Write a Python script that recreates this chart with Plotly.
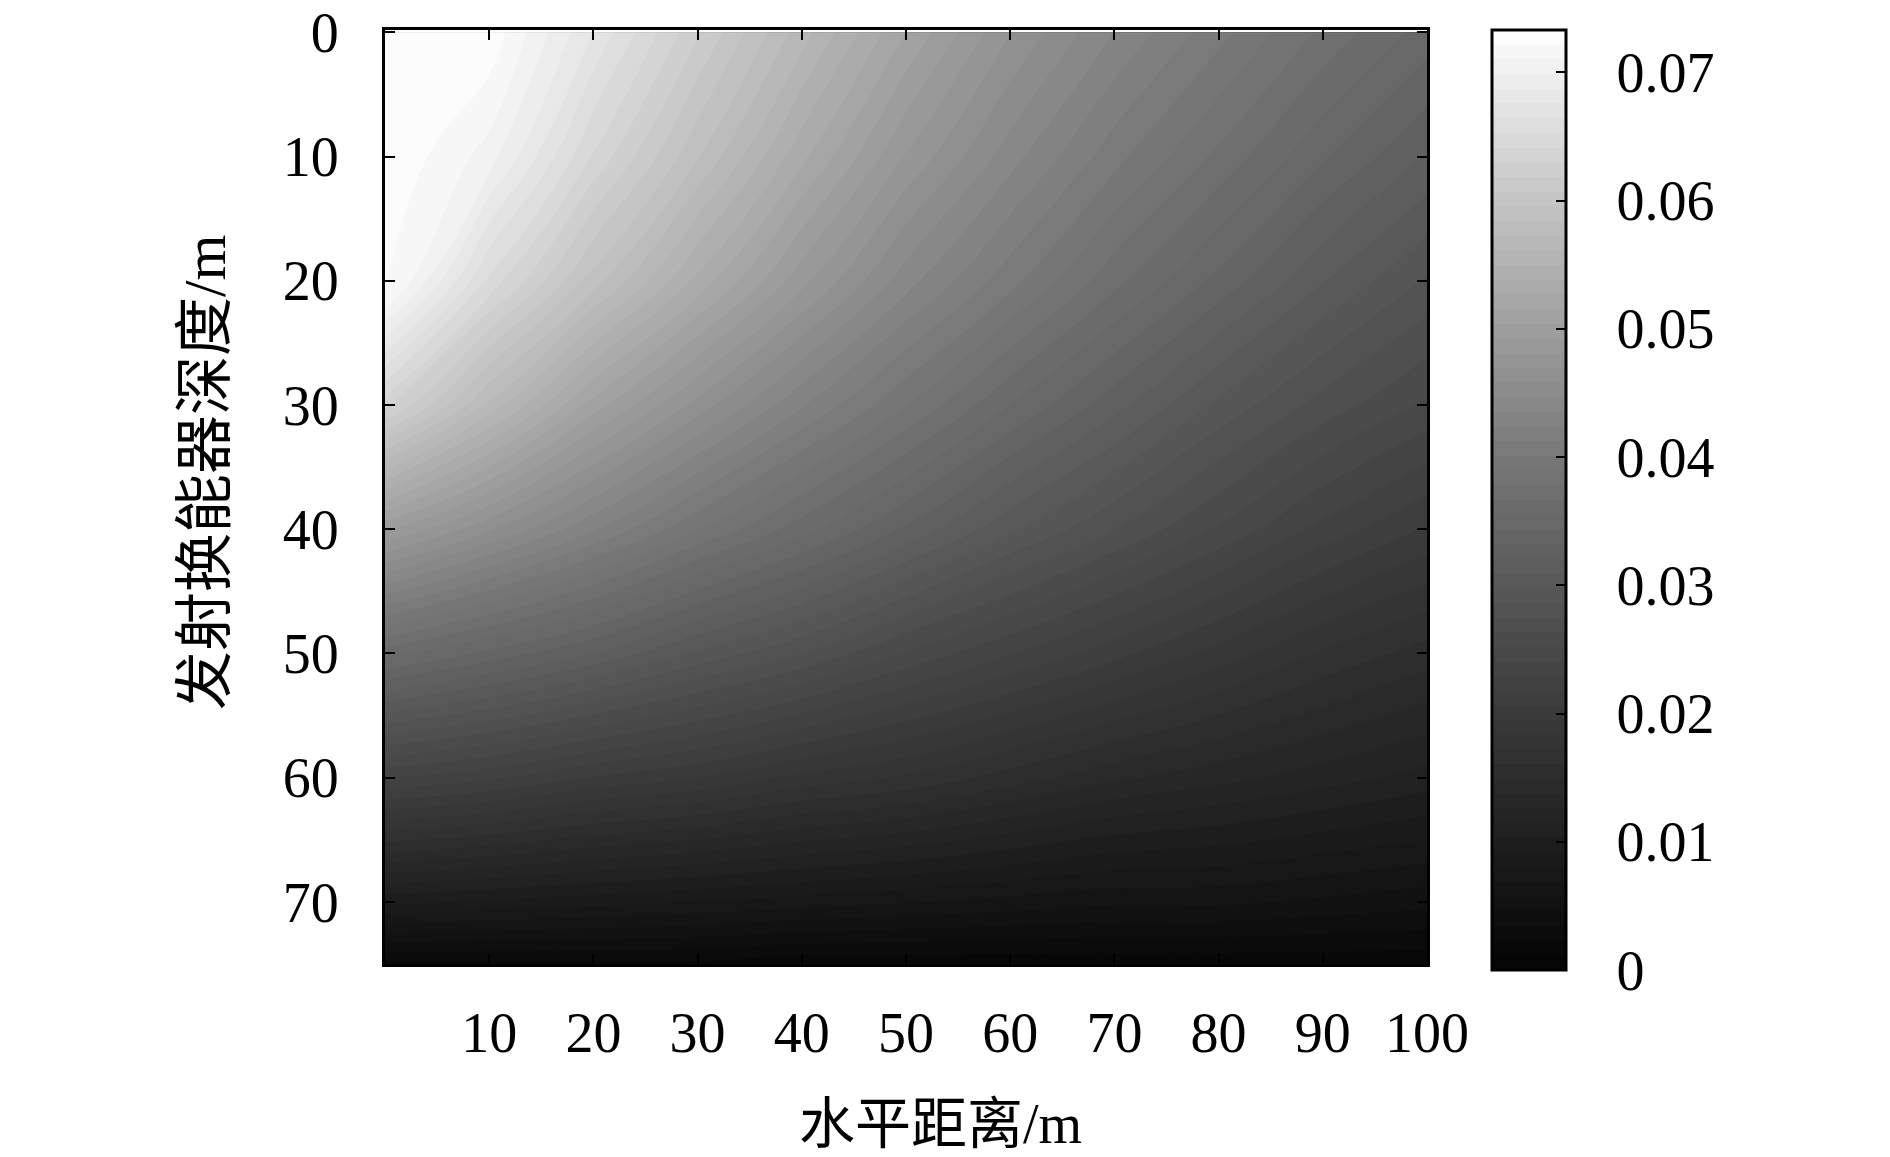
import plotly.graph_objects as go

# horizontal distance (m) and transmitter depth (m) of the sampled grid
distance = [0, 10, 20, 30, 40, 50, 60, 70, 80, 90, 100]
depth = [0, 10, 20, 30, 40, 50, 60, 70, 75]

# field values, one row per depth (units 1e-3)
row_d0 = [73.3, 73.0, 67.5, 62.0, 56.6, 51.5, 47.0, 43.5, 40.5, 37.5, 35.0]
row_d10 = [73.3, 70.5, 64.0, 58.5, 53.0, 48.0, 44.0, 40.5, 37.5, 34.5, 32.0]
row_d20 = [73.0, 65.0, 59.0, 53.5, 48.5, 44.0, 40.5, 37.0, 34.0, 31.0, 28.5]
row_d30 = [63.5, 57.0, 51.0, 46.5, 42.5, 39.0, 35.5, 32.5, 29.5, 27.0, 25.0]
row_d40 = [49.5, 46.0, 42.5, 39.0, 36.0, 33.0, 30.0, 27.5, 25.0, 22.5, 20.5]
row_d50 = [36.0, 34.0, 32.0, 29.5, 27.5, 25.0, 23.0, 21.0, 19.0, 17.0, 15.5]
row_d60 = [23.0, 22.0, 20.5, 19.5, 18.0, 17.0, 15.5, 14.0, 13.0, 12.0, 11.0]
row_d70 = [9.5, 9.0, 8.5, 8.0, 7.5, 7.0, 6.5, 6.0, 6.0, 5.5, 5.0]
row_d75 = [2.0, 2.0, 2.0, 2.0, 1.5, 1.5, 1.5, 1.5, 1.5, 1.5, 1.5]

rows = [row_d0, row_d10, row_d20, row_d30, row_d40,
        row_d50, row_d60, row_d70, row_d75]
z = [[v / 1000 for v in r] for r in rows]

x_ticks = [10, 20, 30, 40, 50, 60, 70, 80, 90, 100]
y_ticks = [0, 10, 20, 30, 40, 50, 60, 70]
cbar_ticks = [0, 0.01, 0.02, 0.03, 0.04, 0.05, 0.06, 0.07]
cbar_text = ["0", "0.01", "0.02", "0.03", "0.04", "0.05", "0.06", "0.07"]
zmax = 0.0733

# grey map as it appears in the reference colour bar (darker than linear)
gray_scale = [
    [0.0, "rgb(3,3,3)"],
    [0.136, "rgb(30,30,30)"],
    [0.273, "rgb(58,58,58)"],
    [0.409, "rgb(88,88,88)"],
    [0.546, "rgb(120,120,120)"],
    [0.682, "rgb(158,158,158)"],
    [0.819, "rgb(197,197,197)"],
    [0.955, "rgb(240,240,240)"],
    [1.0, "rgb(255,255,255)"],
]

W, H = 1890, 1157
FONT = "Liberation Serif, Times New Roman, Noto Sans CJK SC, serif"
PAD = "\u00a0\u00a0\u2006"

fig = go.Figure()
fig.add_trace(go.Contour(
    x=distance, y=depth, z=z,
    zmin=0, zmax=zmax, zauto=False,
    colorscale=gray_scale,
    contours=dict(start=0, end=zmax, size=zmax / 64, coloring="fill"),
    line=dict(width=0, smoothing=1.3),
    colorbar=dict(
        x=1492 / W, xanchor="left", y=1 - 30 / H, yanchor="top",
        len=940 / H, lenmode="fraction",
        thickness=74, thicknessmode="pixels",
        outlinewidth=3, outlinecolor="black",
        ticks="inside", ticklen=11, tickwidth=2, tickcolor="black",
        tickvals=cbar_ticks, ticktext=[PAD + t for t in cbar_text],
        tickfont=dict(family=FONT, size=56, color="black"),
        xpad=0, ypad=0,
    ),
))

fig.update_xaxes(
    range=[0, 100], domain=[385 / W, 1427 / W],
    tickvals=x_ticks, ticks="inside", ticklen=10, tickwidth=2, tickcolor="black",
    showline=True, linewidth=3, linecolor="black", mirror="ticks",
    showgrid=False, zeroline=False, ticklabelstandoff=18,
    tickfont=dict(family=FONT, size=56, color="black"),
)
fig.update_yaxes(
    range=[75, -0.2], domain=[1 - 964 / H, 1 - 30 / H],
    tickvals=y_ticks, ticks="inside", ticklen=10, tickwidth=2, tickcolor="black",
    showline=True, linewidth=3, linecolor="black", mirror="ticks",
    showgrid=False, zeroline=False, ticklabelstandoff=32,
    tickfont=dict(family=FONT, size=56, color="black"),
)

fig.add_annotation(text="水平距离/m", xref="paper", yref="paper",
                   x=940 / W, y=1 - 1124 / H, showarrow=False,
                   xanchor="center", yanchor="middle",
                   font=dict(family=FONT, size=56, color="black"))
fig.add_annotation(text="发射换能器深度/m", xref="paper", yref="paper",
                   x=205 / W, y=1 - 473 / H, showarrow=False, textangle=-90,
                   xanchor="center", yanchor="middle",
                   font=dict(family=FONT, size=59, color="black"))

fig.update_layout(
    width=W, height=H, autosize=False,
    margin=dict(l=0, r=0, t=0, b=0, autoexpand=False),
    paper_bgcolor="white", plot_bgcolor="white",
    showlegend=False,
)

fig.write_html(
    "out.html",
    config={"responsive": False, "displayModeBar": False},
    default_width=f"{W}px", default_height=f"{H}px",
    post_script="document.body.style.margin='0';document.body.style.overflow='hidden';",
)
